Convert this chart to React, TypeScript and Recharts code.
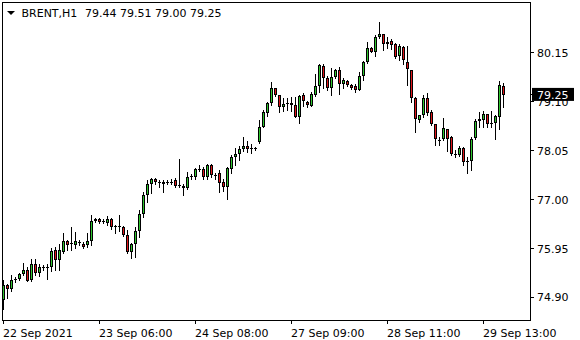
import React from "react";
import { ComposedChart, Bar, XAxis, YAxis, ReferenceArea } from "recharts";

const openArr = [
  74.84, 75.16, 75.09, 75.27, 75.29, 75.4, 75.48, 75.27, 75.61, 75.42,
  75.53, 75.55, 75.55, 75.91, 75.7, 75.87, 76.11, 76.04, 76.02, 76.07,
  76.04, 76.02, 76.11, 76.54, 76.58, 76.52, 76.5, 76.58, 76.41, 76.43,
  76.41, 76.24, 75.87, 76.04, 76.32, 76.69, 77.1, 77.33, 77.44, 77.37,
  77.33, 77.37, 77.39, 77.42, 77.31, 77.29, 77.25, 77.48, 77.48, 77.65,
  77.65, 77.48, 77.74, 77.52, 77.57, 77.37, 77.27, 77.65, 77.91, 77.98,
  78.08, 78.15, 78.11, 78.09, 78.24, 78.56, 78.86, 79.08, 79.4, 79.25,
  78.99, 79.05, 79.07, 79.03, 78.77, 79.25, 79.1, 79.01, 79.25, 79.44,
  79.87, 79.61, 79.4, 79.63, 79.78, 79.48, 79.55, 79.46, 79.44, 79.35,
  79.66, 79.96, 80.26, 80.17, 80.49, 80.56, 80.34, 80.41, 80.34, 80.09,
  80.28, 79.96, 79.78, 79.18, 78.71, 78.82, 79.18, 78.88, 78.62, 78.28,
  78.3, 78.52, 78.34, 77.98, 77.96, 78.11, 77.8, 77.83, 78.32, 78.69,
  78.71, 78.84, 78.62, 78.64, 78.77, 79.44,
];
const highArr = [
  75.27, 75.2, 75.38, 75.33, 75.42, 75.65, 75.55, 75.72, 75.72, 75.63,
  75.59, 75.63, 75.96, 75.98, 76.04, 76.28, 76.13, 76.41, 76.3, 76.13,
  76.09, 76.28, 76.67, 76.6, 76.6, 76.58, 76.65, 76.6, 76.45, 76.67,
  76.43, 76.34, 76.06, 76.41, 76.77, 77.16, 77.42, 77.46, 77.46, 77.42,
  77.42, 77.42, 77.44, 77.46, 77.87, 77.33, 77.59, 77.55, 77.68, 77.74,
  77.7, 77.76, 77.76, 77.57, 77.63, 77.44, 77.7, 77.96, 78.11, 78.15,
  78.34, 78.26, 78.19, 78.13, 78.71, 78.92, 79.1, 79.53, 79.4, 79.25,
  79.18, 79.18, 79.2, 79.2, 79.25, 79.29, 79.12, 79.31, 79.7, 79.91,
  79.91, 79.66, 79.83, 79.81, 79.85, 79.61, 79.57, 79.48, 79.48, 79.74,
  79.98, 80.39, 80.28, 80.54, 80.82, 80.56, 80.49, 80.45, 80.37, 80.34,
  80.3, 80.3, 79.78, 79.2, 78.82, 79.25, 79.29, 78.92, 78.62, 78.34,
  78.75, 78.52, 78.37, 78.06, 78.15, 78.13, 77.91, 78.34, 78.73, 78.88,
  78.9, 78.84, 78.9, 78.82, 79.55, 79.51,
];
const lowArr = [
  74.66, 74.88, 75.05, 75.24, 75.27, 75.38, 75.25, 75.25, 75.38, 75.36,
  75.5, 75.29, 75.46, 75.5, 75.48, 75.85, 75.91, 75.93, 75.96, 76.02,
  75.96, 75.98, 76.02, 76.52, 76.5, 76.49, 76.45, 76.37, 76.28, 76.32,
  76.21, 75.85, 75.74, 75.76, 76.19, 76.62, 76.95, 77.14, 77.33, 77.27,
  77.16, 77.33, 77.33, 77.27, 77.27, 77.1, 77.22, 77.44, 77.44, 77.61,
  77.44, 77.44, 77.48, 77.44, 77.16, 77.18, 77.01, 77.57, 77.74, 77.85,
  78.04, 78.02, 78.0, 78.06, 78.21, 78.56, 78.8, 79.03, 79.23, 78.88,
  78.9, 78.92, 78.9, 78.77, 78.64, 79.01, 78.99, 79.01, 79.23, 79.31,
  79.4, 79.35, 79.25, 79.61, 79.27, 79.4, 79.44, 79.38, 79.31, 79.35,
  79.57, 79.94, 80.17, 80.09, 80.47, 80.21, 80.26, 80.24, 80.04, 80.0,
  79.91, 79.46, 79.1, 78.45, 78.67, 78.77, 78.82, 78.6, 78.17, 78.17,
  78.28, 78.04, 77.96, 77.91, 77.93, 77.74, 77.57, 77.63, 78.3, 78.56,
  78.56, 78.56, 78.56, 78.3, 78.52, 79.0,
];
const closeArr = [
  75.16, 75.09, 75.27, 75.3, 75.4, 75.48, 75.25, 75.61, 75.42, 75.55,
  75.56, 75.56, 75.89, 75.7, 75.91, 76.11, 76.02, 76.07, 76.11, 76.09,
  75.98, 76.11, 76.54, 76.58, 76.52, 76.54, 76.58, 76.41, 76.43, 76.41,
  76.24, 75.87, 76.04, 76.32, 76.69, 77.1, 77.33, 77.44, 77.37, 77.35,
  77.37, 77.39, 77.37, 77.29, 77.29, 77.25, 77.48, 77.5, 77.65, 77.63,
  77.48, 77.74, 77.52, 77.5, 77.35, 77.27, 77.68, 77.91, 77.98, 78.08,
  78.15, 78.09, 78.09, 78.11, 78.56, 78.88, 79.08, 79.4, 79.25, 78.99,
  79.05, 79.07, 79.03, 78.77, 79.23, 79.12, 79.03, 79.27, 79.44, 79.89,
  79.61, 79.4, 79.63, 79.78, 79.48, 79.57, 79.46, 79.4, 79.35, 79.66,
  79.96, 80.26, 80.17, 80.49, 80.56, 80.34, 80.39, 80.32, 80.06, 80.3,
  80.0, 79.81, 79.18, 78.73, 78.82, 79.18, 78.86, 78.62, 78.3, 78.26,
  78.54, 78.3, 77.98, 77.96, 78.11, 77.8, 77.83, 78.3, 78.69, 78.73,
  78.84, 78.62, 78.64, 78.8, 79.46, 79.25,
];

const xTickIdx = [0, 24, 48, 72, 96, 120];
const xTickLabels = [
  "22 Sep 2021",
  "23 Sep 06:00",
  "24 Sep 08:00",
  "27 Sep 09:00",
  "28 Sep 11:00",
  "29 Sep 13:00",
];
const yTicks = [74.9, 75.95, 77.0, 78.05, 79.1, 80.15];
const symbol = "BRENT,H1";
const headerValues = "79.44 79.51 79.00 79.25";
const lastClose = 79.25;

const data = openArr.map((o, i) => ({
  i,
  open: o,
  high: highArr[i],
  low: lowArr[i],
  close: closeArr[i],
}));

const X_DOMAIN: [number, number] = [-0.375, 131.625];
const Y_DOMAIN: [number, number] = [74.417, 81.245];
const FONT = "DejaVu Sans";
const UP = "#2fc62f";
const DOWN = "#e0161b";

function Candle(props: any) {
  const { x, y, width, height, payload } = props;
  if (!payload) return null;
  const { open, high, low, close } = payload;
  const top = Math.min(y, y + height);
  const bot = Math.max(y, y + height);
  const k = high > low ? (bot - top) / (high - low) : 0;
  const py = (v: number) => top + (high - v) * k;
  const cx = Math.floor(x + width / 2) + 0.5;
  const up = close >= open;
  const yH = Math.round(py(high));
  const yL = Math.round(py(low));
  const bTop = Math.round(py(Math.max(open, close)));
  const bBot = Math.round(py(Math.min(open, close)));
  return (
    <g>
      <line x1={cx} x2={cx} y1={yH} y2={yL + 1} stroke="#000" strokeWidth={1} />
      {bBot - bTop >= 2 ? (
        <rect
          x={cx - 1}
          y={bTop + 0.5}
          width={2}
          height={bBot - bTop - 1}
          fill={up ? UP : DOWN}
          stroke="#000"
          strokeWidth={1}
        />
      ) : (
        <line x1={cx - 1.5} x2={cx + 1.5} y1={bTop + 0.5} y2={bTop + 0.5} stroke="#000" strokeWidth={1} />
      )}
    </g>
  );
}

function XTick(props: any) {
  const { x, y, payload } = props;
  const idx = xTickIdx.indexOf(payload.value);
  return (
    <text x={x - 0.5} y={y} dy="0.71em" textAnchor="start" fontFamily={FONT} fontSize={11} fill="#000">
      {idx >= 0 ? xTickLabels[idx] : ""}
    </text>
  );
}

function YTick(props: any) {
  const { x, y, payload } = props;
  if (payload.value === lastClose) {
    return (
      <g>
        <rect x={x - 5} y={y - 7} width={42} height={13} fill="#000" />
        <text x={x} y={y} dy="0.355em" textAnchor="start" fontFamily={FONT} fontSize={11} fill="#fff">
          {lastClose.toFixed(2)}
        </text>
      </g>
    );
  }
  return (
    <text x={x} y={y} dy="0.355em" textAnchor="start" fontFamily={FONT} fontSize={11} fill="#000">
      {Number(payload.value).toFixed(2)}
    </text>
  );
}

export default function App() {
  return (
    <div style={{ position: "absolute", left: 0, top: 0, width: 580, height: 340, background: "#fff" }}>
      <ComposedChart
        width={580}
        height={340}
        data={data}
        margin={{ top: 2, left: 2, right: 0, bottom: 0 }}
      >
        <XAxis
          dataKey="i"
          type="number"
          domain={X_DOMAIN}
          allowDataOverflow
          ticks={xTickIdx}
          interval={0}
          height={20}
          tickSize={4}
          tickMargin={5}
          axisLine={{ stroke: "#000", shapeRendering: "crispEdges" }}
          tickLine={{ stroke: "#000", shapeRendering: "crispEdges" }}
          tick={<XTick />}
        />
        <YAxis
          orientation="right"
          type="number"
          domain={Y_DOMAIN}
          allowDataOverflow
          ticks={[...yTicks, lastClose]}
          interval={0}
          width={50}
          tickSize={4}
          tickMargin={3}
          axisLine={{ stroke: "#000", shapeRendering: "crispEdges" }}
          tickLine={{ stroke: "#000", shapeRendering: "crispEdges" }}
          tick={<YTick />}
        />
        <ReferenceArea
          x1={X_DOMAIN[0]}
          x2={X_DOMAIN[1]}
          y1={Y_DOMAIN[0]}
          y2={Y_DOMAIN[1]}
          fill="none"
          stroke="#000"
          strokeWidth={1}
          shapeRendering="crispEdges"
          ifOverflow="visible"
        />
        <Bar
          dataKey={(d: any) => [d.low, d.high]}
          barSize={3}
          shape={<Candle />}
          isAnimationActive={false}
        />
      </ComposedChart>
      <svg
        width={300}
        height={24}
        style={{ position: "absolute", left: 0, top: 0, pointerEvents: "none" }}
      >
        <polygon points="7,11 15,11 11,15" fill="#000" />
        <text x={21.5} y={17} fontFamily={FONT} fontSize={11} fill="#000">
          {symbol}
        </text>
        <text x={85} y={17} fontFamily={FONT} fontSize={11} fill="#000">
          {headerValues}
        </text>
      </svg>
    </div>
  );
}
